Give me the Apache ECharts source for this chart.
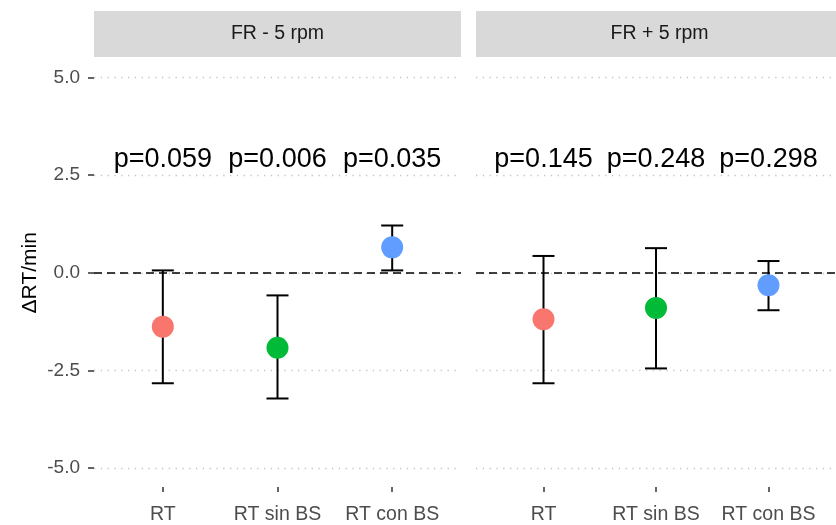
<!DOCTYPE html>
<html>
<head>
<meta charset="utf-8">
<script src="https://cdn.jsdelivr.net/npm/echarts@6/dist/echarts.min.js"></script>
<style>html,body{margin:0;padding:0;background:#fff}#c{width:836px;height:525px}</style>
</head>
<body>
<div id="c"></div>
<script>
const categories = ['RT', 'RT sin BS', 'RT con BS'];
const panels = ['FR - 5 rpm', 'FR + 5 rpm'];
const colors = ['#F8766D', '#00BA38', '#619CFF'];
const yTicks = [-5, -2.5, 0, 2.5, 5];
const meanMinus = [-1.38, -1.92, 0.65];
const lowMinus = [-2.83, -3.22, 0.06];
const highMinus = [0.06, -0.58, 1.21];
const meanPlus = [-1.19, -0.90, -0.32];
const lowPlus = [-2.83, -2.45, -0.96];
const highPlus = [0.43, 0.63, 0.30];
const pMinus = ['p=0.059', 'p=0.006', 'p=0.035'];
const pPlus = ['p=0.145', 'p=0.248', 'p=0.298'];
const pY = 2.9;

const FONT = '"Liberation Sans", Arial, sans-serif';
const chart = echarts.init(document.getElementById('c'));

const panelLeft = [94, 476];
const panelWidth = 367;
const grids = panelLeft.map(l => ({left: l, top: 77.5, width: panelWidth, height: 392.5, containLabel: false}));

const xAxes = panelLeft.map((l, i) => ({
  type: 'value', gridIndex: i, min: -0.6, max: 2.6, offset: 19,
  axisLine: {show: false, onZero: false},
  axisTick: {show: true, length: 5, lineStyle: {color: '#333', width: 1.5}, customValues: [0, 1, 2]},
  axisLabel: {customValues: [0, 1, 2], formatter: v => categories[Math.round(v)] || '', color: '#4D4D4D', fontSize: 19.5, fontFamily: FONT, margin: 18},
  splitLine: {show: false}
}));

const yAxes = panelLeft.map((l, i) => ({
  type: 'value', gridIndex: i, min: yTicks[0], max: yTicks[yTicks.length - 1], interval: 2.5,
  name: i === 0 ? 'ΔRT/min' : '', nameLocation: 'middle', nameGap: 53, nameRotate: 90,
  nameTextStyle: {color: '#000', fontSize: 21, fontFamily: FONT},
  axisLine: {show: false, onZero: false},
  axisTick: {show: i === 0, length: 6, lineStyle: {color: '#333', width: 1.5}},
  axisLabel: {show: i === 0, color: '#4D4D4D', fontSize: 19, fontFamily: FONT, margin: 14,
    formatter: v => v.toFixed(1), padding: [6, 0, 0, 0]},
  splitLine: {show: true, lineStyle: {color: '#C4C4C4', width: 1.3, type: [1.3, 5.5]}}
}));

function errData(low, high) { return low.map((lo, k) => [k, lo, high[k]]); }
function ptData(mean) { return mean.map((m, k) => ({value: [k, m], itemStyle: {color: colors[k], opacity: 1}})); }
function pData(labels) { return labels.map((t, k) => ({value: [k, pY], name: t})); }

function errorSeries(i, low, high) {
  return {
    type: 'custom', xAxisIndex: i, yAxisIndex: i, data: errData(low, high),
    encode: {x: 0, y: [1, 2]},
    renderItem: (params, api) => {
      const x = api.value(0);
      const p1 = api.coord([x, api.value(1)]);
      const p2 = api.coord([x, api.value(2)]);
      const hw = 11;
      const st = {stroke: '#000', lineWidth: 2};
      return {type: 'group', children: [
        {type: 'line', shape: {x1: p1[0], y1: p1[1], x2: p2[0], y2: p2[1]}, style: st},
        {type: 'line', shape: {x1: p1[0] - hw, y1: p1[1], x2: p1[0] + hw, y2: p1[1]}, style: st},
        {type: 'line', shape: {x1: p2[0] - hw, y1: p2[1], x2: p2[0] + hw, y2: p2[1]}, style: st}
      ]};
    },
    markLine: {silent: true, symbol: 'none', label: {show: false},
      lineStyle: {color: '#000', width: 1.6, type: [8, 5]}, data: [{yAxis: 0}]},
    z: 2
  };
}
function pointSeries(i, mean) {
  return {type: 'scatter', xAxisIndex: i, yAxisIndex: i, data: ptData(mean), symbolSize: 22,
    itemStyle: {opacity: 1}, emphasis: {disabled: true}, z: 3};
}
function pSeries(i, labels) {
  return {type: 'scatter', xAxisIndex: i, yAxisIndex: i, data: pData(labels), symbolSize: 0,
    itemStyle: {opacity: 1},
    label: {show: true, position: 'inside', formatter: p => p.name, color: '#000', opacity: 1, fontSize: 27, fontFamily: FONT}, z: 4};
}

const graphic = panelLeft.map((l, i) => ({
  type: 'group', left: l, top: 11,
  children: [
    {type: 'rect', shape: {x: 0, y: 0, width: panelWidth, height: 46}, style: {fill: '#D9D9D9'}},
    {type: 'text', x: panelWidth / 2, y: 23, style: {text: panels[i], fill: '#1A1A1A', fontSize: 19.5, fontFamily: FONT, align: 'center', verticalAlign: 'middle'}}
  ]
}));

chart.setOption({
  animation: false,
  backgroundColor: '#fff',
  grid: grids,
  xAxis: xAxes,
  yAxis: yAxes,
  graphic: graphic,
  series: [
    errorSeries(0, lowMinus, highMinus),
    pointSeries(0, meanMinus),
    pSeries(0, pMinus),
    errorSeries(1, lowPlus, highPlus),
    pointSeries(1, meanPlus),
    pSeries(1, pPlus)
  ]
});
</script>
</body>
</html>
